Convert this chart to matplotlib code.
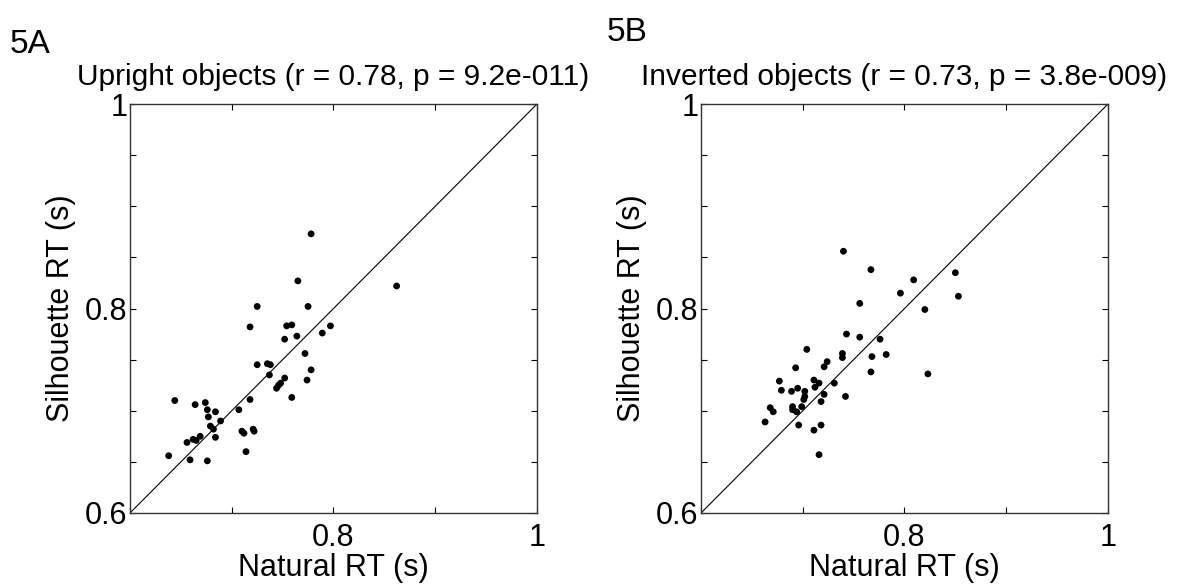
import matplotlib
matplotlib.use("Agg")
import matplotlib.pyplot as plt
import numpy as np

plt.rcParams['font.family'] = ['Liberation Sans', 'DejaVu Sans']

# Upright objects: natural RT vs silhouette RT (s)
upright_natural = [0.778, 0.765, 0.862, 0.725, 0.775, 0.718, 0.754, 0.759, 0.752, 0.764,
                   0.789, 0.797, 0.772, 0.725, 0.735, 0.738, 0.737, 0.752, 0.778, 0.774,
                   0.744, 0.746, 0.748, 0.759, 0.718, 0.707, 0.644, 0.664, 0.674, 0.676,
                   0.684, 0.677, 0.689, 0.679, 0.682, 0.684, 0.669, 0.662, 0.665, 0.656,
                   0.710, 0.712, 0.721, 0.722, 0.714, 0.638, 0.659, 0.676]
upright_silhouette = [0.873, 0.827, 0.822, 0.802, 0.802, 0.782, 0.783, 0.784, 0.770, 0.773,
                      0.776, 0.783, 0.756, 0.745, 0.746, 0.745, 0.735, 0.732, 0.740, 0.730,
                      0.722, 0.725, 0.727, 0.713, 0.711, 0.701, 0.710, 0.706, 0.708, 0.701,
                      0.699, 0.694, 0.690, 0.685, 0.682, 0.674, 0.675, 0.672, 0.671, 0.669,
                      0.680, 0.678, 0.682, 0.680, 0.660, 0.656, 0.652, 0.651]

# Inverted objects
inverted_natural = [0.740, 0.767, 0.809, 0.796, 0.756, 0.820, 0.823, 0.743, 0.756, 0.776,
                    0.704, 0.739, 0.739, 0.768, 0.782, 0.767, 0.724, 0.721, 0.693, 0.677,
                    0.679, 0.689, 0.695, 0.702, 0.711, 0.716, 0.712, 0.731, 0.702, 0.701,
                    0.721, 0.718, 0.699, 0.690, 0.690, 0.694, 0.668, 0.671, 0.663, 0.696,
                    0.742, 0.711, 0.718, 0.716, 0.850, 0.853]
inverted_silhouette = [0.856, 0.838, 0.828, 0.815, 0.805, 0.799, 0.736, 0.775, 0.772, 0.770,
                       0.760, 0.756, 0.752, 0.753, 0.755, 0.738, 0.748, 0.743, 0.742, 0.729,
                       0.720, 0.719, 0.722, 0.719, 0.730, 0.727, 0.723, 0.727, 0.714, 0.711,
                       0.716, 0.709, 0.704, 0.704, 0.701, 0.699, 0.703, 0.699, 0.689, 0.686,
                       0.714, 0.681, 0.686, 0.657, 0.835, 0.812]

titles = ['Upright objects (r = 0.78, p = 9.2e-011)',
          'Inverted objects (r = 0.73, p = 3.8e-009)']
panel_labels = ['5A', '5B']

W, H = 1202, 586
fig = plt.figure(figsize=(W / 100, H / 100), dpi=100)

# axes boxes in pixels: left, top, width, height
boxes = [(130, 104, 407, 409), (701, 104, 407, 409)]
data = [(upright_natural, upright_silhouette), (inverted_natural, inverted_silhouette)]

for (l, t, w, h), (xs, ys), title in zip(boxes, data, titles):
    ax = fig.add_axes([l / W, (H - t - h) / H, w / W, h / H])
    ax.plot([0.6, 1], [0.6, 1], color='black', lw=0.8)
    ax.scatter(xs, ys, s=24, color='black', edgecolors='none', zorder=3)
    ax.set_xlim(0.6, 1)
    ax.set_ylim(0.6, 1)
    ax.set_xticks(np.arange(0.6, 1.001, 0.1))
    ax.set_xticklabels(['', '', '0.8', '', '1'])
    ax.set_yticks(np.arange(0.6, 1.001, 0.05))
    ax.set_yticklabels(['0.6', '', '', '', '0.8', '', '', '', '1'])
    ax.tick_params(direction='in', length=4, width=0.8, top=True, right=True,
                   labelsize=22, colors='black')
    ax.tick_params(axis='y', pad=2)
    ax.tick_params(axis='x', pad=7)
    for sp in ax.spines.values():
        sp.set_linewidth(1.0)
        sp.set_color('#333333')
    ax.set_xlabel('Natural RT (s)', fontsize=22, labelpad=0)
    ax.set_ylabel('Silhouette RT (s)', fontsize=22, labelpad=6)
    ax.set_title(title, fontsize=21.5, pad=14)

fig.text(10 / W, 1 - 29 / H, panel_labels[0], fontsize=24, va='top', ha='left')
fig.text(607 / W, 1 - 17 / H, panel_labels[1], fontsize=24, va='top', ha='left')

fig.savefig('out.png', dpi=100)
